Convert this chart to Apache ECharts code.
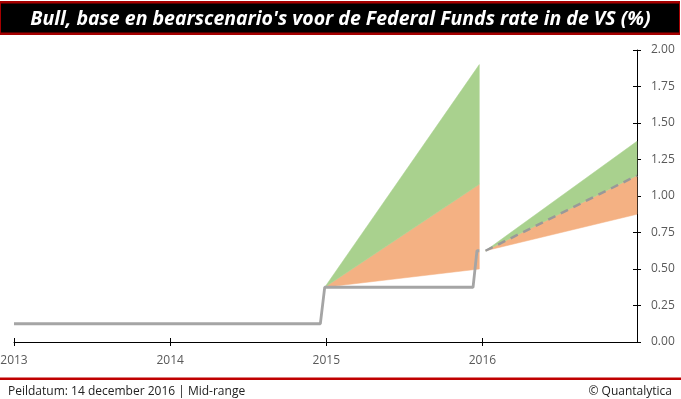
<!DOCTYPE html>
<html>
<head>
<meta charset="utf-8">
<script src="https://cdn.jsdelivr.net/npm/echarts@6/dist/echarts.min.js"></script>
<style>
  html, body { margin: 0; padding: 0; background: #fff; }
  #chart { width: 681px; height: 399px; }
</style>
</head>
<body>
<div id="chart"></div>
<script>
// x-as in jaren (labels zoals in de bron)
const yearTicks = [2013, 2014, 2015, 2016];
const yTicks = [0, 0.25, 0.5, 0.75, 1, 1.25, 1.5, 1.75, 2];

// gerealiseerde Fed Funds rate (middenpunt range)
const actualX = [2013, 2014.962, 2014.99, 2015.94, 2015.965, 2015.98];
const actualY = [0.125, 0.125, 0.375, 0.375, 0.625, 0.625];

// scenario's eerste periode
const band1X = [2014.99, 2015.98];
const bear1 = [0.375, 0.50];
const base1 = [0.375, 1.08];
const bull1 = [0.375, 1.90];

// scenario's tweede periode
const band2X = [2016.02, 2016.99];
const bear2 = [0.625, 0.875];
const base2 = [0.625, 1.14];
const bull2 = [0.625, 1.375];

const green = '#A9D18E';
const orange = '#F4B183';
const grey = '#A5A5A5';

var chartDom = document.getElementById('chart');
var myChart = echarts.init(chartDom);

function pairs(xs, ys) {
  return xs.map((x, i) => [x, ys[i]]);
}

// elke band: [x0, x1, onder0, onder1, boven0, boven1, kleur]
const bands = [
  [band1X[0], band1X[1], bear1[0], bear1[1], base1[0], base1[1], 0],
  [band1X[0], band1X[1], base1[0], base1[1], bull1[0], bull1[1], 1],
  [band2X[0], band2X[1], bear2[0], bear2[1], base2[0], base2[1], 0],
  [band2X[0], band2X[1], base2[0], base2[1], bull2[0], bull2[1], 1]
];
const bandColors = [orange, green];

function renderBand(params, api) {
  const x0 = api.value(0), x1 = api.value(1);
  const pts = [
    api.coord([x0, api.value(2)]),
    api.coord([x1, api.value(3)]),
    api.coord([x1, api.value(5)]),
    api.coord([x0, api.value(4)])
  ];
  return {
    type: 'polygon',
    shape: { points: pts },
    style: { fill: bandColors[api.value(6)], stroke: bandColors[api.value(6)], lineWidth: 0.5 }
  };
}

const labelFont = 'Open Sans';

var option = {
  animation: false,
  backgroundColor: '#fff',
  title: [
    {
      text: "Bull, base en bearscenario's voor de Federal Funds rate in de VS (%)",
      left: 'center', top: 4,
      textStyle: {
        color: '#fff', fontFamily: 'Open Sans', fontStyle: 'italic',
        fontWeight: 'bold', fontSize: 19.5
      }
    },
    {
      text: 'Peildatum: 14 december 2016 | Mid-range',
      left: 3, top: 381,
      textStyle: { color: '#222', fontFamily: labelFont, fontWeight: 'normal', fontSize: 12 }
    },
    {
      text: '© Quantalytica',
      right: 4, top: 381,
      textStyle: { color: '#222', fontFamily: labelFont, fontWeight: 'normal', fontSize: 12 }
    }
  ],
  graphic: [
    { type: 'rect', z: -1, shape: { x: 0, y: 1, width: 680, height: 34 }, style: { fill: '#A50000' } },
    { type: 'rect', z: 0, shape: { x: 1, y: 3.5, width: 678, height: 29 }, style: { fill: '#000' } },
    { type: 'rect', z: 0, shape: { x: 0, y: 377.5, width: 681, height: 2.5 }, style: { fill: '#C00000' } }
  ],
  grid: {
    left: 14, right: 44, top: 50, bottom: 57,
    containLabel: false, outerBoundsMode: 'none'
  },
  xAxis: [
    {
      type: 'value', min: 2013, max: 2016.99, interval: 1,
      axisLine: { show: true, lineStyle: { color: '#000', width: 1 } },
      axisTick: { show: true, length: 4, lineStyle: { color: '#000' } },
      axisLabel: {
        color: '#595959', fontFamily: labelFont, fontSize: 12, margin: 13,
        showMaxLabel: false,
        formatter: v => (yearTicks.indexOf(v) >= 0 ? String(v) : '')
      },
      splitLine: { show: false }
    },
    {
      type: 'value', min: 2013, max: 2016.99, interval: 1, position: 'bottom',
      axisLine: { show: false },
      axisTick: { show: true, inside: true, length: 4, lineStyle: { color: '#000' } },
      axisLabel: { show: false },
      splitLine: { show: false }
    }
  ],
  yAxis: [
    {
      type: 'value', position: 'right', min: yTicks[0], max: yTicks[yTicks.length - 1], interval: 0.25,
      axisLine: { show: true, lineStyle: { color: '#000', width: 1 } },
      axisTick: { show: true, length: 4, lineStyle: { color: '#000' } },
      axisLabel: {
        color: '#595959', fontFamily: labelFont, fontSize: 12, margin: 14,
        formatter: v => v.toFixed(2)
      },
      splitLine: { show: false }
    },
    {
      type: 'value', position: 'right', min: 0, max: 2, interval: 0.25,
      axisLine: { show: false },
      axisTick: { show: true, inside: true, length: 4, lineStyle: { color: '#000' } },
      axisLabel: { show: false },
      splitLine: { show: false }
    }
  ],
  series: [
    {
      type: 'custom', data: bands, renderItem: renderBand, z: 2, silent: true,
      encode: { x: [0, 1], y: [2, 3, 4, 5] }
    },
    {
      type: 'line', data: pairs(band2X, base2), showSymbol: false, z: 4,
      lineStyle: { color: '#999', width: 2.5, type: [8, 6] }
    },
    {
      type: 'line', data: pairs(actualX, actualY), showSymbol: false, z: 5,
      lineStyle: { color: grey, width: 2.8 }
    }
  ]
};

option && myChart.setOption(option);
</script>
</body>
</html>
